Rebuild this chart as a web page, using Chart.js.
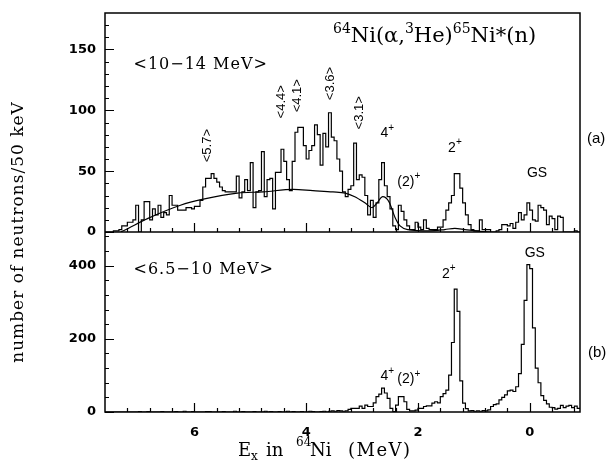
<!DOCTYPE html>
<html>
<head>
<meta charset="utf-8">
<script src="https://cdn.jsdelivr.net/npm/chart.js@4.4.0/dist/chart.umd.min.js"></script>
<style>
  html, body { margin: 0; padding: 0; background: #fff; }
  #wrap { width: 613px; height: 465px; }
</style>
</head>
<body>
<div id="wrap"><canvas id="spectre" width="613" height="465"></canvas></div>
<script>
// 50 keV bins, first bin starts at 7.6 MeV, axis runs down to -0.9 MeV
const binStart = 7.6;
const binWidth = 0.05;

// (a) <10-14 MeV> neutron counts per bin
const countsHigh = [
  0, 0, 0, 1, 1, 2, 5, 5, 8, 8,
  10, 22, 0, 10, 25, 25, 10, 19, 14, 22,
  12, 16, 14, 30, 22, 22, 18, 18, 18, 20,
  20, 19, 21, 21, 26, 37, 44, 44, 48, 44,
  41, 37, 34, 33, 33, 33, 33, 46, 28, 33,
  43, 34, 57, 20, 33, 34, 66, 29, 43, 44,
  19, 49, 49, 68, 58, 43, 34, 58, 82, 86,
  86, 71, 60, 67, 71, 88, 80, 55, 81, 70,
  98, 78, 75, 60, 50, 33, 29, 35, 38, 73,
  43, 47, 45, 30, 14, 26, 12, 24, 43, 57,
  38, 29, 19, 5, 2, 22, 17, 10, 5, 2,
  2, 8, 4, 2, 10, 3, 2, 2, 2, 4,
  4, 10, 18, 24, 30, 48, 48, 36, 24, 14,
  6, 2, 1, 1, 10, 2, 2, 2, 0, 0,
  1, 2, 6, 6, 5, 7, 3, 8, 16, 10,
  14, 24, 18, 10, 9, 22, 20, 18, 6, 13,
  11, 2, 13, 12, 0, 0, 0, 0, 1, 0
];

// (b) <6.5-10 MeV> neutron counts per bin
const countsLow = [
  0, 0, 0, 0, 0, 0, 0, 0, 0, 0,
  0, 0, 1, 0, 0, 1, 0, 0, 0, 0,
  1, 0, 0, 0, 0, 1, 0, 0, 2, 0,
  0, 1, 0, 0, 0, 0, 1, 1, 0, 0,
  0, 0, 1, 0, 0, 0, 2, 0, 0, 1,
  0, 0, 0, 1, 0, 0, 0, 2, 0, 1,
  0, 0, 1, 0, 0, 2, 0, 1, 0, 0,
  1, 0, 0, 2, 1, 0, 0, 1, 2, 0,
  2, 3, 2, 4, 3, 2, 3, 7, 10, 10,
  10, 16, 10, 19, 15, 15, 25, 42, 49, 65,
  52, 37, 10, 1, 19, 42, 42, 28, 7, 3,
  3, 5, 10, 10, 15, 17, 17, 24, 28, 25,
  42, 50, 60, 101, 190, 336, 275, 85, 24, 9,
  3, 4, 2, 3, 2, 4, 3, 6, 15, 20,
  22, 33, 40, 47, 58, 60, 56, 69, 105, 185,
  305, 403, 392, 230, 120, 80, 45, 32, 22, 13,
  12, 8, 10, 18, 12, 16, 18, 12, 16, 10
];

// smooth background + 4+ shape under spectrum (a)
const fitE =      [7.32, 7.27, 6.84, 6.25, 5.84, 5.23, 4.77, 4.23, 3.88, 3.52, 3.30, 3.13, 2.95, 2.82, 2.73, 2.63, 2.52, 2.41, 2.32, 2.18, 1.79, 1.52, 1.34, 1.16, 0.89, 0.71];
const fitCounts = [0,    1,    11,   22,   27,   32,   33,   35,   34,   33,   32,   29,   24,   20,   24,   29,   25,   12,   5,    2,    1,    2,    3,    2,    0.5,  0];

const xMajorTicks = [6, 4, 2, 0];
const yTopLabels = [0, 50, 100, 150];
const yBottomLabels = [0, 200, 400];

function histogramPoints(counts) {
  const pts = counts.map((c, i) => ({ x: +(binStart - i * binWidth).toFixed(2), y: c }));
  pts.push({ x: +(binStart - counts.length * binWidth).toFixed(2), y: counts[counts.length - 1] });
  return pts;
}

const xTickValues = [];
for (let k = -2; k <= 18; k++) xTickValues.push(Math.round(k * 4) / 10);
const yTopTicks = [];
for (let k = 0; k <= 17; k++) yTopTicks.push(k * 10);
const yBotTicks = [];
for (let k = 0; k <= 12; k++) yBotTicks.push(k * 40);

const tickFont = { family: 'DejaVu Sans', size: 13, weight: 'bold' };

// write text made of pieces, some raised or lowered
function richText(ctx, parts, x, y, size, family) {
  let cx = x;
  parts.forEach(p => {
    const s = p.sup || p.sub ? Math.round(size * 0.68) : size;
    const dy = p.sup ? -size * 0.45 : (p.sub ? size * 0.25 : 0);
    ctx.font = s + 'px ' + family;
    ctx.fillText(p.t, cx, y + dy);
    cx += ctx.measureText(p.t).width + (p.gap || 0);
  });
}

const annotate = {
  id: 'annotate',
  afterDraw(chart) {
    const { ctx, chartArea: area, scales } = chart;
    const x = scales.x, yTop = scales.yTop, yBot = scales.yBot;
    ctx.save();
    ctx.strokeStyle = '#000';
    ctx.fillStyle = '#000';

    // panel frames
    ctx.lineWidth = 1.5;
    ctx.strokeRect(area.left, area.top, area.right - area.left, area.bottom - area.top);
    ctx.beginPath();
    ctx.moveTo(area.left, yTop.bottom);
    ctx.lineTo(area.right, yTop.bottom);
    ctx.stroke();

    // inward tick marks
    ctx.lineWidth = 1.2;
    ctx.beginPath();
    xTickValues.forEach(v => {
      const px = Math.round(x.getPixelForValue(v)) + 0.5;
      const len = xMajorTicks.includes(v) ? 9 : 4;
      [yTop.bottom, yBot.bottom].forEach(base => {
        ctx.moveTo(px, base);
        ctx.lineTo(px, base - len);
      });
    });
    [[yTop, yTopTicks, yTopLabels], [yBot, yBotTicks, yBottomLabels]].forEach(([s, ticks, majors]) => {
      ticks.forEach(v => {
        const py = Math.round(s.getPixelForValue(v)) + 0.5;
        const len = majors.includes(v) ? 9 : 4;
        ctx.moveTo(area.left, py);
        ctx.lineTo(area.left + len, py);
      });
    });
    ctx.stroke();

    ctx.textBaseline = 'alphabetic';
    ctx.textAlign = 'left';

    // reaction
    richText(ctx, [
      { t: '64', sup: true }, { t: 'Ni(α,' }, { t: '3', sup: true }, { t: 'He)' },
      { t: '65', sup: true }, { t: 'Ni*(n)' }
    ], x.getPixelForValue(3.52), yTop.getPixelForValue(156), 21, 'DejaVu Serif');

    // energy windows
    ctx.font = '16px DejaVu Serif';
    if ('letterSpacing' in ctx) ctx.letterSpacing = '1px';
    ctx.fillText('<10−14 MeV>', x.getPixelForValue(7.09), yTop.getPixelForValue(134));
    ctx.fillText('<6.5−10 MeV>', x.getPixelForValue(7.09), yBot.getPixelForValue(378));
    if ('letterSpacing' in ctx) ctx.letterSpacing = '0px';

    // continuum region markers, rotated
    ctx.font = '13px Liberation Sans';
    ctx.textAlign = 'center';
    ctx.textBaseline = 'middle';
    [['<5.7>', 5.76, 71], ['<4.4>', 4.45, 107], ['<4.1>', 4.15, 112], ['<3.6>', 3.56, 122], ['<3.1>', 3.05, 98]]
      .forEach(([t, e, v]) => {
        ctx.save();
        ctx.translate(x.getPixelForValue(e), yTop.getPixelForValue(v));
        ctx.rotate(-Math.PI / 2);
        ctx.fillText(t, 0, 0);
        ctx.restore();
      });

    // level labels
    ctx.textAlign = 'left';
    ctx.textBaseline = 'alphabetic';
    const sans = 'Liberation Sans';
    const level = (parts, e, v, s) => richText(ctx, parts, x.getPixelForValue(e), s.getPixelForValue(v), 14, sans);
    level([{ t: '4' }, { t: '+', sup: true }], 2.67, 78, yTop);
    level([{ t: '(2)' }, { t: '+', sup: true }], 2.37, 38, yTop);
    level([{ t: '2' }, { t: '+', sup: true }], 1.46, 66, yTop);
    level([{ t: 'GS' }], 0.05, 45, yTop);
    level([{ t: 'GS' }], 0.09, 425, yBot);
    level([{ t: '2' }, { t: '+', sup: true }], 1.57, 367, yBot);
    level([{ t: '4' }, { t: '+', sup: true }], 2.67, 88, yBot);
    level([{ t: '(2)' }, { t: '+', sup: true }], 2.37, 79, yBot);

    // panel tags
    ctx.font = '15px Liberation Sans';
    ctx.fillText('(a)', area.right + 7, yTop.getPixelForValue(73));
    ctx.fillText('(b)', area.right + 8, yBot.getPixelForValue(150));

    // axis titles
    ctx.save();
    ctx.translate(19, 232);
    ctx.rotate(-Math.PI / 2);
    ctx.textAlign = 'center';
    ctx.textBaseline = 'middle';
    ctx.font = '17px DejaVu Serif';
    if ('letterSpacing' in ctx) ctx.letterSpacing = '1px';
    ctx.fillText('number of neutrons/50 keV', 0, 0);
    ctx.restore();

    const base = 456;
    ctx.font = '18px DejaVu Serif';
    ctx.fillText('E', 238, base);
    ctx.font = '12px DejaVu Serif';
    ctx.fillText('x', 251, base + 4);
    ctx.font = '18px DejaVu Serif';
    ctx.fillText('in', 266, base);
    ctx.font = '12px DejaVu Serif';
    ctx.fillText('64', 296, base - 10);
    ctx.font = '18px DejaVu Serif';
    ctx.fillText('Ni', 310, base);
    if ('letterSpacing' in ctx) ctx.letterSpacing = '1.5px';
    ctx.fillText('(MeV)', 348, base);
    ctx.restore();
  }
};

const lineStyle = { borderColor: '#000', borderWidth: 1.2, pointRadius: 0, fill: false };

new Chart(document.getElementById('spectre'), {
  type: 'line',
  data: {
    datasets: [
      { label: '<10-14 MeV>', data: histogramPoints(countsHigh), yAxisID: 'yTop', stepped: true, ...lineStyle },
      { label: 'fit', data: fitE.map((e, i) => ({ x: e, y: fitCounts[i] })), yAxisID: 'yTop',
        cubicInterpolationMode: 'monotone', ...lineStyle },
      { label: '<6.5-10 MeV>', data: histogramPoints(countsLow), yAxisID: 'yBot', stepped: true, ...lineStyle }
    ]
  },
  options: {
    responsive: false,
    animation: false,
    devicePixelRatio: 1,
    layout: { padding: { left: 0, top: 13, right: 33, bottom: 0 } },
    plugins: { legend: { display: false }, tooltip: { enabled: false } },
    scales: {
      x: {
        type: 'linear', min: -0.9, max: 7.6, reverse: true,
        grid: { display: false }, border: { display: false },
        afterBuildTicks: s => { s.ticks = xTickValues.map(v => ({ value: v })); },
        afterFit: s => { s.height = 53; },
        ticks: {
          autoSkip: false, maxRotation: 0, padding: 5, color: '#000', font: tickFont,
          callback: v => (xMajorTicks.includes(v) ? String(v) : '')
        }
      },
      yBot: {
        type: 'linear', position: 'left', stack: 'panels', stackWeight: 180, min: 0, max: 492,
        grid: { display: false }, border: { display: false },
        afterBuildTicks: s => { s.ticks = yBotTicks.map(v => ({ value: v })); },
        afterFit: s => { s.width = 105; },
        ticks: {
          autoSkip: false, padding: 1, color: '#000', font: tickFont,
          callback: v => (yBottomLabels.includes(v) ? String(v) : '')
        }
      },
      yTop: {
        type: 'linear', position: 'left', stack: 'panels', stackWeight: 219, min: 0, max: 180,
        grid: { display: false }, border: { display: false },
        afterBuildTicks: s => { s.ticks = yTopTicks.map(v => ({ value: v })); },
        afterFit: s => { s.width = 105; },
        ticks: {
          autoSkip: false, padding: 1, color: '#000', font: tickFont,
          callback: v => (yTopLabels.includes(v) ? String(v) : '')
        }
      }
    }
  },
  plugins: [annotate]
});
</script>
</body>
</html>
